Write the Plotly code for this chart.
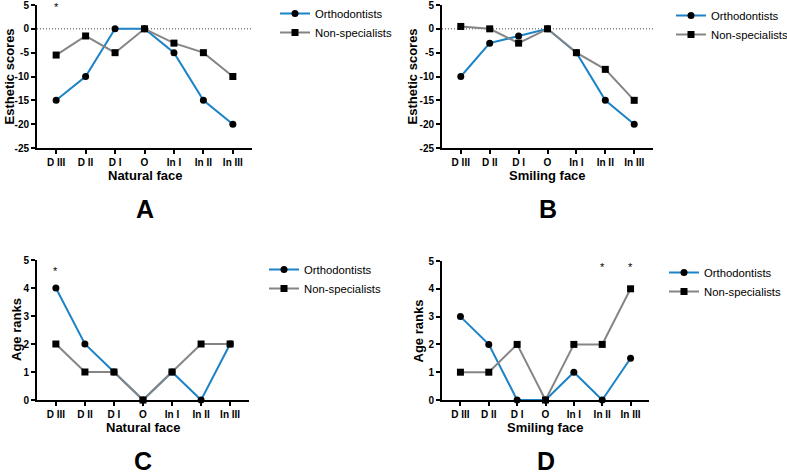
import plotly.graph_objects as go

categories = ["D III", "D II", "D I", "O", "In I", "In II", "In III"]

a_orth = [-15, -10, 0, 0, -5, -15, -20]
a_non = [-5.5, -1.5, -5, 0, -3, -5, -10]
b_orth = [-10, -3, -1.5, 0, -5, -15, -20]
b_non = [0.5, 0, -3, 0, -5, -8.5, -15]
c_orth = [4, 2, 1, 0, 1, 0, 2]
c_non = [2, 1, 1, 0, 1, 2, 2]
d_orth = [3, 2, 0, 0, 1, 0, 1.5]
d_non = [1, 1, 2, 0, 2, 2, 4]

esth_ticks = [5, 0, -5, -10, -15, -20, -25]
age_ticks = [0, 1, 2, 3, 4, 5]

W, H = 787, 476
BLUE = "#1b83c6"
GRAY = "#858585"
FONT = "Liberation Sans, Arial, sans-serif"

def px(x):
    return x / W

def py(y):
    return 1 - y / H

xidx = list(range(len(categories)))

panels = [
    dict(orth=a_orth, non=a_non, xd=[px(37), px(252)], yd=[py(148), py(5)],
         yr=[-25, 5], ticks=esth_ticks, ytitle="Esthetic scores", xtitle="Natural face",
         letter="A", zero=True, stars=[(0, 4.6)], leg=(px(275), py(-1)), ytx=9, xty=175, lety=209),
    dict(orth=b_orth, non=b_non, xd=[px(442), px(653)], yd=[py(148), py(5)],
         yr=[-25, 5], ticks=esth_ticks, ytitle="Esthetic scores", xtitle="Smiling face",
         letter="B", zero=True, stars=[], leg=(px(671), py(1)), ytx=412, xty=175, lety=209),
    dict(orth=c_orth, non=c_non, xd=[px(37), px(249)], yd=[py(400), py(260)],
         yr=[0, 5], ticks=age_ticks, ytitle="Age ranks", xtitle="Natural face",
         letter="C", zero=False, stars=[(0, 4.6)], leg=(px(264), py(255)), ytx=16, xty=427, lety=461),
    dict(orth=d_orth, non=d_non, xd=[px(442), px(649)], yd=[py(400), py(261)],
         yr=[0, 5], ticks=age_ticks, ytitle="Age ranks", xtitle="Smiling face",
         letter="D", zero=False, stars=[(5, 4.8), (6, 4.8)], leg=(px(664), py(258)), ytx=418, xty=427, lety=461),
]

fig = go.Figure()
annotations = []
shapes = []
for i, p in enumerate(panels):
    n = "" if i == 0 else str(i + 1)
    xa, ya = "x" + n, "y" + n
    lg = "legend" + n
    fig.add_trace(go.Scatter(x=xidx, y=p["orth"], mode="lines+markers", name="Orthodontists",
                             line=dict(color=BLUE, width=2),
                             marker=dict(symbol="circle", size=7, color="black"),
                             xaxis=xa, yaxis=ya, legend=lg, cliponaxis=False))
    fig.add_trace(go.Scatter(x=xidx, y=p["non"], mode="lines+markers", name="Non-specialists",
                             line=dict(color=GRAY, width=2),
                             marker=dict(symbol="square", size=7, color="black"),
                             xaxis=xa, yaxis=ya, legend=lg, cliponaxis=False))
    axx = dict(domain=p["xd"], anchor=ya, range=[-0.65, 6.65], showline=True, linecolor="black",
               linewidth=2, ticks="outside", ticklen=4, tickwidth=2, tickcolor="black",
               showgrid=False, zeroline=False, fixedrange=True, ticklabeloverflow="allow",
               tickfont=dict(family=FONT, size=10, color="black", weight="bold"),
               tickmode="array", tickvals=xidx, ticktext=categories, type="linear")
    axy = dict(domain=p["yd"], anchor=xa, range=p["yr"], showline=True, linecolor="black",
               linewidth=2, ticks="outside", ticklen=4, tickwidth=2, tickcolor="black",
               showgrid=False, zeroline=False, fixedrange=True, ticklabeloverflow="allow",
               tickfont=dict(family=FONT, size=10, color="black", weight="bold"),
               tickmode="array", tickvals=p["ticks"],
               ticktext=[str(t) for t in p["ticks"]])
    fig.layout["xaxis" + n] = axx
    fig.layout["yaxis" + n] = axy
    fig.layout[lg] = dict(x=p["leg"][0], y=p["leg"][1], xanchor="left", yanchor="top",
                          bgcolor="rgba(0,0,0,0)", font=dict(family=FONT, size=11.3, color="black"),
                          tracegroupgap=0, itemwidth=30)
    if p["zero"]:
        shapes.append(dict(type="line", xref=xa + " domain", yref=ya, x0=0, x1=1, y0=0, y1=0,
                           line=dict(color="#444444", width=1, dash="1px,2px"), layer="below"))
    for (ci, yv) in p["stars"]:
        annotations.append(dict(x=ci, y=yv, xref=xa, yref=ya, text="*", showarrow=False,
                                font=dict(family=FONT, size=11, color="black")))
    xc = (p["xd"][0] + p["xd"][1]) / 2
    annotations.append(dict(x=xc, y=py(p["xty"]), xref="paper", yref="paper", text="<b>%s</b>" % p["xtitle"],
                            showarrow=False, font=dict(family=FONT, size=13, color="black"),
                            xanchor="center", yanchor="middle"))
    annotations.append(dict(x=xc, y=py(p["lety"]), xref="paper", yref="paper", text="<b>%s</b>" % p["letter"],
                            showarrow=False, font=dict(family=FONT, size=25, color="black"),
                            xanchor="center", yanchor="middle"))
    yc = (p["yd"][0] + p["yd"][1]) / 2
    annotations.append(dict(x=px(p["ytx"]), y=yc, xref="paper", yref="paper", text="<b>%s</b>" % p["ytitle"],
                            showarrow=False, textangle=-90, font=dict(family=FONT, size=13, color="black"),
                            xanchor="center", yanchor="middle"))

fig.update_layout(width=W, height=H, margin=dict(l=0, r=0, t=0, b=0, autoexpand=False),
                  paper_bgcolor="white", plot_bgcolor="white",
                  annotations=annotations, shapes=shapes, showlegend=True,
                  font=dict(family=FONT))
fig.write_html("out.html", config={"displayModeBar": False},
               post_script="document.body.style.margin='0';document.body.style.overflow='hidden';")
